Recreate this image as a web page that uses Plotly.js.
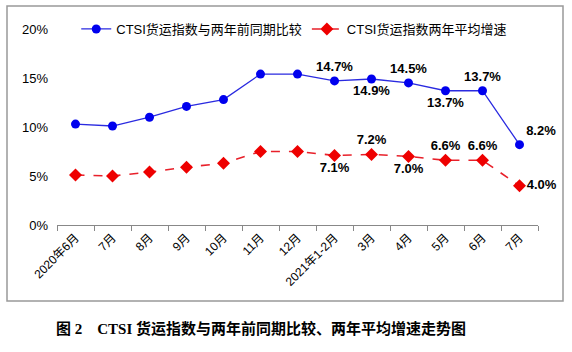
<!DOCTYPE html>
<html><head><meta charset="utf-8">
<script src="https://cdn.plot.ly/plotly-3.0.1.min.js"></script>
<style>body{margin:0;background:#fff}#c{width:572px;height:352px}</style>
</head><body><div id="c"></div>
<script>
const categories = ['2020年6月','7月','8月','9月','10月','11月','12月','2021年1-2月','3月','4月','5月','6月','7月'];
const compareTwoYears = [10.3,10.1,11.0,12.1,12.8,15.4,15.4,14.7,14.9,14.5,13.7,13.7,8.2];
const avgGrowth = [5.1,5.0,5.4,5.9,6.3,7.5,7.5,7.1,7.2,7.0,6.6,6.6,4.0];
const labelFrom = 7;
const bluePos = ['','','','','','','','top center','bottom center','top center','bottom center','top center','top right'];
const redPos = ['','','','','','','','bottom center','top center','bottom center','top center','top center','middle right'];

const idx = categories.map((_,i)=>i);
const txt = arr => arr.map((v,i)=> i>=labelFrom ? v.toFixed(1)+'%' : '');
const labFont = {family:'Liberation Sans, Arial, sans-serif', size:13, color:'#000', weight:'bold'};

const traces = [
 {x:idx, y:compareTwoYears, name:'CTSI货运指数与两年前同期比较', type:'scatter',
  mode:'lines+markers+text', text:txt(compareTwoYears), textposition:bluePos, textfont:labFont,
  line:{color:'#2a2ae0', width:1.3}, marker:{color:'#0000ee', size:9, symbol:'circle'}, cliponaxis:false},
 {x:idx, y:avgGrowth, name:'CTSI货运指数两年平均增速', type:'scatter',
  mode:'lines+markers+text', text:txt(avgGrowth), textposition:redPos, textfont:labFont,
  line:{color:'#e8202a', width:1.6, dash:'dash'}, marker:{color:'#ee0000', size:10, symbol:'diamond'}, cliponaxis:false}
];

const layout = {
 width:572, height:352,
 margin:{l:57, r:34, t:29, b:127},
 paper_bgcolor:'#fff', plot_bgcolor:'#fff',
 font:{family:'Liberation Sans, Arial, Noto Sans CJK SC, sans-serif', size:12, color:'#000'},
 showlegend:true,
 legend:{orientation:'h', x:0.04, y:1.0, xanchor:'left', yanchor:'middle', font:{size:13}, bgcolor:'rgba(0,0,0,0)', tracegroupgap:0},
 xaxis:{type:'linear', range:[-0.5, categories.length-0.5], tickmode:'array', tickvals:idx, ticktext:categories,
  tickangle:-45, showline:true, linecolor:'#888', linewidth:1, ticks:'', showgrid:false, zeroline:false, tickfont:{size:12},
  minor:{tick0:-0.5, dtick:1, ticks:'outside', ticklen:5, tickcolor:'#888', showgrid:false}},
 yaxis:{range:[0,20], dtick:5, ticksuffix:'%', showgrid:false, zeroline:false, showline:false, ticks:'', tickfont:{size:13}, ticklabelstandoff:8},
 shapes:[{type:'rect', xref:'paper', yref:'paper', x0:(7-57)/481, x1:(563-57)/481, y0:(225-301)/196, y1:(225-6)/196, line:{color:'#999', width:1.5}}],
 annotations:[{xref:'paper', yref:'paper', x:(261-57)/481, y:(225-328)/196, xanchor:'center', yanchor:'middle', showarrow:false,
  text:'图 2　CTSI 货运指数与两年前同期比较、两年平均增速走势图', font:{family:'Liberation Serif, Noto Sans CJK SC, serif', size:15, weight:'bold', color:'#000'}}]
};
Plotly.newPlot('c', traces, layout, {displayModeBar:false, staticPlot:true});
</script></body></html>
